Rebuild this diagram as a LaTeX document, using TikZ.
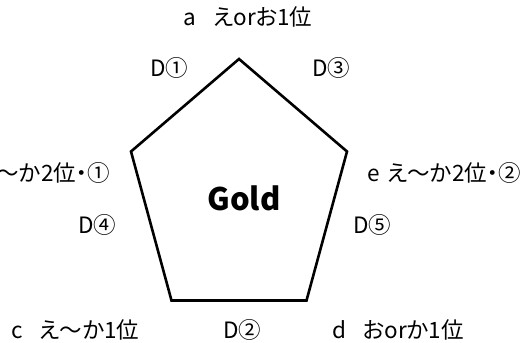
\documentclass[tikz,border=0pt]{standalone}
\usepackage{fontspec}
\setmainfont{Noto Sans CJK JP}[RawFeature=+palt]
\usetikzlibrary{positioning}
\newcommand{\lblgap}{\hspace{0.75em}}

\begin{document}
\begin{tikzpicture}[x=1pt, y=-1pt,
  lbl/.style={font=\fontsize{22.5}{26}\selectfont, inner sep=0pt},
  title/.style={font=\fontsize{31}{36}\selectfont\bfseries, inner sep=0pt},
  edge/.style={draw=black, line width=2.6pt, line join=miter}
]
  \useasboundingbox (0,0) rectangle (529,342);
  % corners of the pentagon
  \coordinate (top) at (239,59);
  \coordinate (ur) at (347,151.5);
  \coordinate (lr) at (306.5,300.5);
  \coordinate (ll) at (171.5,300.5);
  \coordinate (ul) at (131,151.5);
  \draw[edge] (top) -- (ur) -- (lr) -- (ll) -- (ul) -- cycle;
  \node[title] (gold) at (244,198) {Gold};
  % corner labels
  \node[lbl] (a) at (248,17) {a\lblgap えorお1位};
  \node[lbl, anchor=east] (b) at (110,173) {え〜か2位・①};
  \node[lbl, anchor=east] (e) at (521,173) {e\hspace{0.35em}え〜か2位・②};
  \node[lbl, anchor=west] (c) at (11,330) {c\lblgap え〜か1位};
  \node[lbl, anchor=west] (d) at (332,330) {d\lblgap おorか1位};
  % side labels
  \node[lbl] (d1) at (169,68) {D①};
  \node[lbl] (d3) at (331,68) {D③};
  \node[lbl] (d4) at (97.5,225) {D④};
  \node[lbl] (d5) at (372,225) {D⑤};
  \node[lbl] (d2) at (242,330) {D②};
\end{tikzpicture}
\end{document}
